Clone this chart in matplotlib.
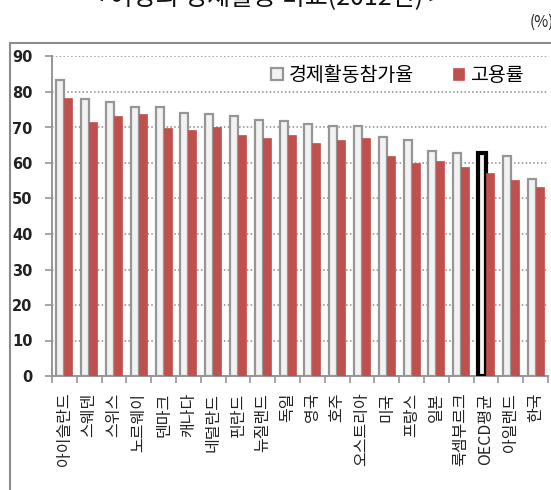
import numpy as np
import matplotlib
matplotlib.use("Agg")
import matplotlib.pyplot as plt
from matplotlib.patches import Rectangle

plt.rcParams['font.family'] = ['Noto Sans CJK KR', 'DejaVu Sans']

# -----------------------------
# data
# -----------------------------
countries = ["아이슬란드", "스웨덴", "스위스", "노르웨이", "덴마크", "캐나다",
             "네덜란드", "핀란드", "뉴질랜드", "독일", "영국", "호주",
             "오스트리아", "미국", "프랑스", "일본", "룩셈부르크", "OECD평균",
             "아일랜드", "한국"]
participation = [83.3, 78.0, 77.1, 75.8, 75.8, 74.0, 73.9, 73.2, 72.2, 71.8,
                 71.0, 70.4, 70.4, 67.3, 66.4, 63.3, 62.8, 62.7, 61.9, 55.4]
employment = [78.2, 71.6, 73.3, 73.7, 69.8, 69.3, 70.1, 68.0, 67.0, 68.0,
              65.7, 66.6, 67.1, 62.1, 60.0, 60.7, 59.0, 57.2, 55.1, 53.2]
yticks = list(range(0, 100, 10))

W, H = 551, 490
fig = plt.figure(figsize=(W / 100, H / 100), dpi=100)
ax = fig.add_axes([52 / W, 1 - 376 / H, 496 / W, (376 - 56.5) / H])

x = np.arange(len(countries))
bw = 0.32
gray = ax.bar(x - bw / 2, participation, bw, color="#f2f2f2",
              edgecolor="#969696", linewidth=1.6, label="경제활동참가율", zorder=3)
red = ax.bar(x + bw / 2, employment, bw, color="#c0504d",
             edgecolor="#c0504d", linewidth=0.5, label="고용률", zorder=3)

# highlight OECD average
i_oecd = countries.index("OECD평균")
gray[i_oecd].set_edgecolor("black")
gray[i_oecd].set_linewidth(3)

ax.set_xlim(-0.5, len(countries) - 0.5)
ax.set_ylim(0, 90)
ax.set_yticks(yticks)
ax.set_yticklabels([str(v) for v in yticks], family="DejaVu Sans",
                   fontsize=10.5, fontweight="bold", color="#222222")
ax.tick_params(axis="y", direction="out", length=5, width=1.2,
               color="#969696", pad=9)

ax.set_xticks(x)
ax.set_xticklabels(countries, rotation=90, fontsize=11.5, color="#222222",
                   va="top", ha="center")
ax.set_xticks(np.arange(-0.5, len(countries)), minor=True)
ax.tick_params(axis="x", which="major", length=0, pad=12)
ax.tick_params(axis="x", which="minor", direction="out", length=5,
               width=1.2, color="#969696")

ax.grid(axis="y", linestyle=(0, (1, 1.5)), color="#8c8c8c", linewidth=1.1, zorder=0)
for s in ["top", "right"]:
    ax.spines[s].set_visible(False)
for s in ["left", "bottom"]:
    ax.spines[s].set_color("#969696")
    ax.spines[s].set_linewidth(1.4)

ax.legend(loc="upper right", bbox_to_anchor=(0.975, 1.01), ncol=2, frameon=False,
          prop={"size": 14, "weight": "medium"}, handlelength=0.6, handleheight=0.6,
          handletextpad=0.3, columnspacing=2.0, borderaxespad=0.2)

# outer chart border
fig.patches.append(Rectangle((10 / W, -0.1), 1.2, 1.1 - 43 / H,
                             transform=fig.transFigure, fill=False,
                             edgecolor="#8c8c8c", linewidth=1.5))

# cut-off title and unit
fig.text(266 / W, 1 - 10 / H, "< 여성의 경제활동 비교(2012년) >", fontsize=18,
         ha="center", va="bottom", color="#111111")
fig.text(530 / W, 1 - 22 / H, "(%)", fontsize=11, ha="left", va="center",
         color="#222222")

fig.savefig("out.png", dpi=100)
